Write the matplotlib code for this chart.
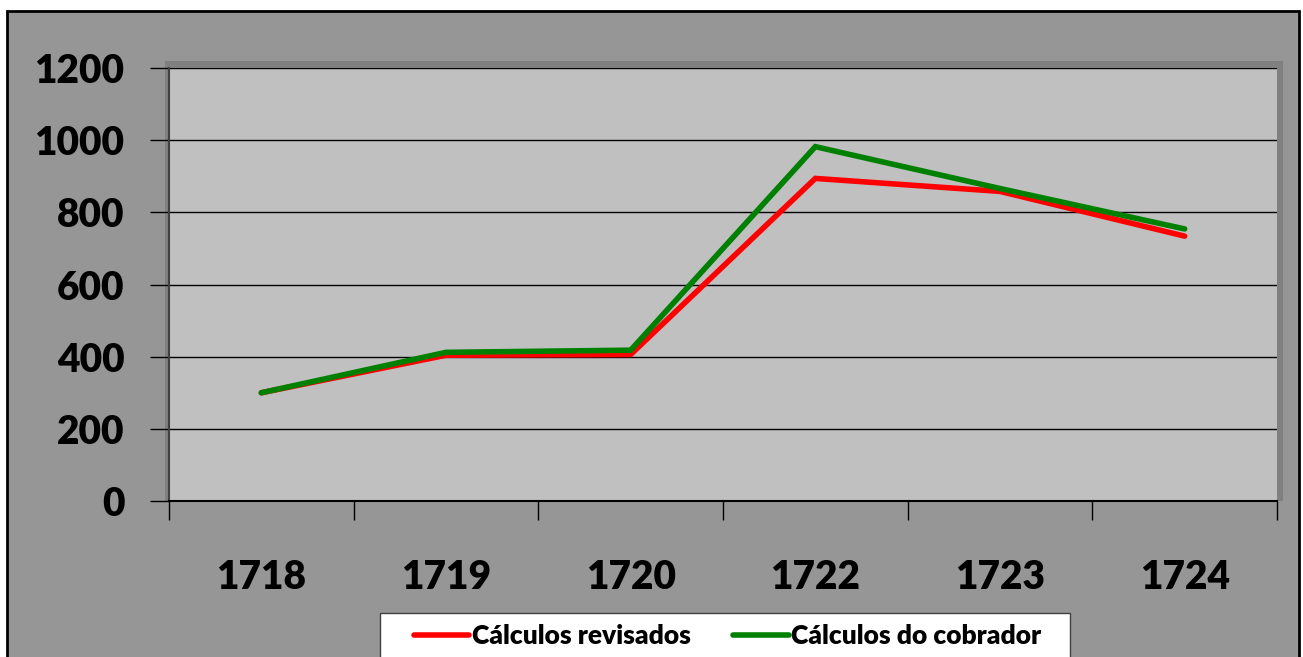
import matplotlib
matplotlib.use('Agg')
import matplotlib.pyplot as plt
from matplotlib.patches import Rectangle

plt.rcParams['font.family'] = ['Lato', 'DejaVu Sans']
plt.rcParams['font.weight'] = 'bold'

# -------------------- 数据 ----------------------
anos = ['1718', '1719', '1720', '1722', '1723', '1724']
revisados = [300, 404, 406, 894, 858, 734]
cobrador = [300, 412, 418, 982, 866, 754]
yticks = [0, 200, 400, 600, 800, 1000, 1200]

W, H = 1303, 657
fig = plt.figure(figsize=(W / 100, H / 100), dpi=100, facecolor='white')

# 外框 (灰色背景 + 黑边)
fig.patches.append(Rectangle((7 / W, -0.1), (1299 - 7) / W, 1.1 - 11 / H,
                             transform=fig.transFigure, facecolor='#969696',
                             edgecolor='black', linewidth=2, zorder=-2))
# 绘图区阴影
fig.patches.append(Rectangle((165 / W, 1 - 501 / H), (1283 - 165) / W, (501 - 61) / H,
                             transform=fig.transFigure, facecolor='#808080',
                             edgecolor='none', zorder=-1))
# 图例框
fig.patches.append(Rectangle((380 / W, -0.05), (1070 - 380) / W, 0.05 + 1 - 613 / H,
                             transform=fig.transFigure, facecolor='white',
                             edgecolor='#404040', linewidth=1, zorder=5))

left, right, top, bottom = 169, 1277, 68, 501
ax = fig.add_axes([left / W, 1 - bottom / H, (right - left) / W, (bottom - top) / H])
ax.set_facecolor('#c0c0c0')

x = list(range(len(anos)))
ax.plot(x, revisados, color='#ff0000', lw=4, solid_capstyle='round',
        solid_joinstyle='miter', label='Cálculos revisados', zorder=3)
ax.plot(x, cobrador, color='#008000', lw=4, solid_capstyle='round',
        solid_joinstyle='miter', label='Cálculos do cobrador', zorder=4)

ax.set_ylim(0, 1200)
ax.set_xlim(-0.5, len(anos) - 0.5)
ax.set_yticks(yticks)
ax.set_yticklabels([str(v) for v in yticks], fontsize=28, fontweight='heavy')
ax.set_xticks([i - 0.5 for i in range(len(anos) + 1)], minor=False)
ax.set_xticklabels([])
ax.set_xticks(x, minor=True)
ax.set_xticklabels(anos, minor=True, fontsize=28, fontweight='heavy')
ax.tick_params(axis='x', which='minor', length=0, pad=42)
ax.tick_params(axis='x', which='major', length=14, width=1, direction='out', color='black')
ax.tick_params(axis='y', length=14, width=1, direction='out', color='black', pad=18)

ax.grid(axis='y', color='black', lw=1)
ax.set_axisbelow(True)
for s in ['top', 'right']:
    ax.spines[s].set_visible(False)
ax.spines['left'].set_color('#404040')
ax.spines['left'].set_linewidth(1.5)
ax.spines['bottom'].set_color('black')
ax.spines['bottom'].set_linewidth(1.5)

leg = fig.legend(loc='center left', bbox_to_anchor=(414 / W, 1 - 636 / H), ncol=2,
                 prop={'weight': 'heavy', 'size': 19}, frameon=False,
                 handlelength=2.1, handletextpad=0.1,
                 columnspacing=1.6, borderpad=0, borderaxespad=0)
for h in leg.legend_handles:
    h.set_linewidth(4)
leg.set_zorder(10)

fig.savefig('out.png', dpi=100, facecolor='white')
